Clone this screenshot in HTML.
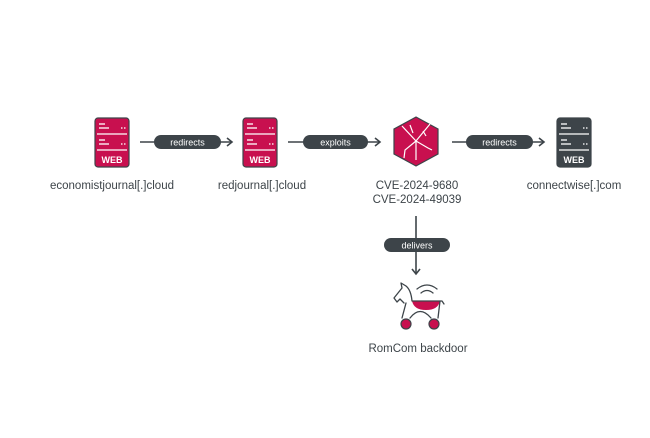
<!DOCTYPE html>
<html><head><style>
body{margin:0;background:#fff;width:650px;height:433px;overflow:hidden;font-family:"Liberation Sans",sans-serif}
</style></head><body>
<svg width="650" height="433" viewBox="0 0 650 433" xmlns="http://www.w3.org/2000/svg" font-family="Liberation Sans, sans-serif">
<defs>
<g id="srv">
<rect x="0" y="0" width="34" height="49" rx="3" stroke="#3d4449" stroke-width="1.2"/>
<g stroke="#fff" stroke-width="1.3">
<line x1="4" y1="6" x2="10" y2="6"/><line x1="4" y1="10" x2="14" y2="10"/><line x1="2" y1="16" x2="32" y2="16"/>
<line x1="4" y1="22" x2="10" y2="22"/><line x1="4" y1="26" x2="14" y2="26"/><line x1="2" y1="32" x2="32" y2="32"/>
<line x1="26" y1="10" x2="27.5" y2="10"/><line x1="29" y1="10" x2="30.5" y2="10"/>
<line x1="26" y1="26" x2="27.5" y2="26"/><line x1="29" y1="26" x2="30.5" y2="26"/>
</g>
<text x="17" y="45" fill="#fff" font-size="9" font-weight="bold" text-anchor="middle">WEB</text>
</g>
</defs>
<use href="#srv" x="95" y="118" fill="#c8104f"/>
<use href="#srv" x="243" y="118" fill="#c8104f"/>
<use href="#srv" x="557" y="118" fill="#3d4449"/>
<polygon points="416,117 438,129 438,154 416,166 394,154 394,129" fill="#c8104f" stroke="#3d4449" stroke-width="1.2"/>
<g stroke="#fff" stroke-width="1.2" fill="none">
<path d="M402,126 L416,141 L430,124 M416,141 L416,160 M416,141 L405,150 L404,158 M416,141 L428,148 L432,150 M410,125 L413,133 M423,131 L426,136"/>
</g>
<g stroke="#3d4449" stroke-width="1.6" fill="none">
<line x1="140" y1="142" x2="232" y2="142"/><path d="M227,138 L232,142 L227,146"/>
<line x1="288" y1="142" x2="380" y2="142"/><path d="M375,138 L380,142 L375,146"/>
<line x1="452" y1="142" x2="544" y2="142"/><path d="M539,138 L544,142 L539,146"/>
<line x1="416" y1="216" x2="416" y2="274"/><path d="M412,269 L416,274 L420,269"/>
</g>
<g fill="#3d4449">
<rect x="154" y="135" width="67" height="14" rx="7"/>
<rect x="303" y="135" width="65" height="14" rx="7"/>
<rect x="466" y="135" width="67" height="14" rx="7"/>
<rect x="384" y="238" width="66" height="14" rx="7"/>
</g>
<g fill="#fff" font-size="9" text-anchor="middle">
<text x="187.5" y="145.5">redirects</text>
<text x="335.5" y="145.5">exploits</text>
<text x="499.5" y="145.5">redirects</text>
<text x="417" y="248.5">delivers</text>
</g>
<!-- horse -->
<path d="M412,301 L440,301 Q438,310 426,310 Q414,310 412,301Z" fill="#c8104f"/>
<g stroke="#3d4449" stroke-width="1.3" fill="none" stroke-linejoin="round" stroke-linecap="round">
<path d="M404,303 L400,299 L397,302 L394,298 L402,288 L401,283 L406,286 Q411,290 412,301 L442,301 L444,304"/>
<path d="M406,303 L402,318 M440,301 L438,318"/>
<path d="M410,318 Q420,305 431,318"/>
<path d="M417,289 Q427,281 437,289 M421,293 Q427,288 433,293"/>
</g>
<circle cx="406" cy="324" r="5" fill="#c8104f" stroke="#3d4449" stroke-width="1.2"/>
<circle cx="434" cy="324" r="5" fill="#c8104f" stroke="#3d4449" stroke-width="1.2"/>
<g fill="#3d4449" font-size="11.5" text-anchor="middle">
<text x="112" y="189">economistjournal[.]cloud</text>
<text x="262" y="189">redjournal[.]cloud</text>
<text x="417" y="189">CVE-2024-9680</text>
<text x="417" y="203">CVE-2024-49039</text>
<text x="574" y="189">connectwise[.]com</text>
<text x="418" y="352">RomCom backdoor</text>
</g>
</svg>
</body></html>
